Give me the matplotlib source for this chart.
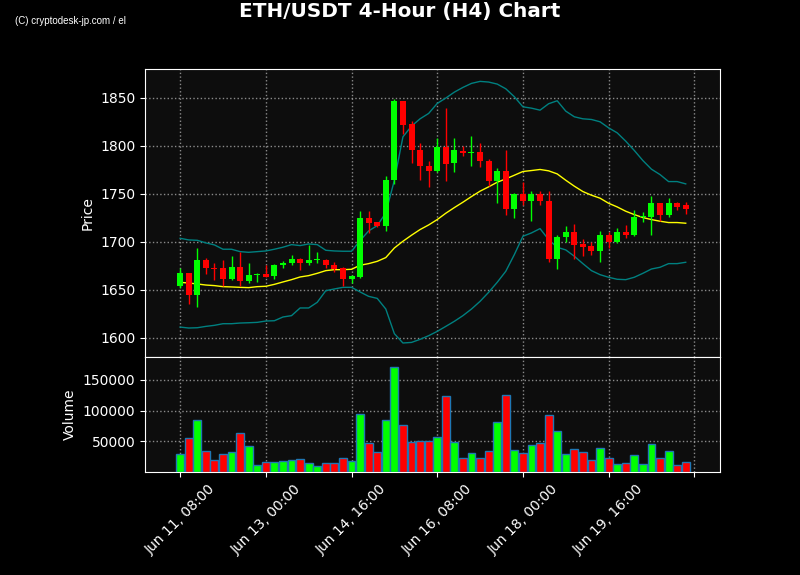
import matplotlib

matplotlib.use("Agg")
import matplotlib.pyplot as plt
import numpy as np
import pandas as pd

# 4-hour candles
opens = [
    1654, 1667, 1644, 1681, 1673, 1673, 1661, 1674, 1659, 1665.5,
    1666, 1664, 1675.4, 1677.5, 1682.4, 1677.5, 1681, 1681.4, 1676, 1672.7,
    1661.5, 1663.6, 1725.2, 1720.7, 1716.1, 1764.1, 1846.2, 1822.2, 1796, 1779.4,
    1773.5, 1798.9, 1781.8, 1795, 1792.3, 1794, 1784.6, 1763.1, 1773.2, 1733.9,
    1750.2, 1742.9, 1750.2, 1742.9, 1681.7, 1704.7, 1710.6, 1697.4, 1696, 1690.8,
    1707.4, 1699.8, 1710.6, 1707.4, 1726, 1726.2, 1740.5, 1728.3, 1740.5, 1738,
]
highs = [
    1673, 1667.5, 1693.5, 1683, 1678, 1681.4, 1684.8, 1689.4, 1678, 1667.5,
    1676, 1677, 1679.6, 1686.6, 1682.6, 1697, 1689.4, 1682.4, 1679, 1673.7,
    1665, 1731.8, 1731.8, 1721, 1768.3, 1849, 1846.5, 1826, 1802.4, 1784,
    1807.6, 1839.6, 1807.9, 1799.6, 1810.4, 1802.4, 1786.4, 1777, 1796, 1750.5,
    1762.4, 1752.6, 1752.6, 1752.6, 1707.4, 1716.5, 1718.6, 1702.9, 1699.8, 1711.3,
    1710.6, 1714.4, 1717.5, 1733.2, 1731.1, 1748.1, 1740.5, 1745.7, 1741.2, 1741.5,
]
lows = [
    1652, 1635.1, 1632, 1666.4, 1659.8, 1653.6, 1660, 1653.6, 1657, 1657.7,
    1663, 1661, 1673, 1675.4, 1670.2, 1675.4, 1678, 1672.7, 1668.5, 1653.6,
    1657, 1662.2, 1709.2, 1715.8, 1710.9, 1760.3, 1811.8, 1782.2, 1764.8, 1757.2,
    1773, 1763.1, 1772.5, 1789.2, 1778.7, 1777.7, 1758.6, 1740.5, 1728.3, 1724.8,
    1738, 1721.7, 1738, 1678.9, 1671.6, 1699.8, 1682, 1684.8, 1686.6, 1679,
    1693.2, 1698.4, 1704, 1705.7, 1720.3, 1707.4, 1721.4, 1725.5, 1732.8, 1729,
]
closes = [
    1667, 1644.2, 1681.4, 1672.3, 1672, 1660.9, 1674, 1658.8, 1665.7, 1666,
    1663.6, 1676, 1678.2, 1682.4, 1677.5, 1681.4, 1681.5, 1675.4, 1671.6, 1661.5,
    1664.7, 1725.2, 1720, 1716.1, 1764.8, 1846.2, 1821.5, 1795.4, 1778.7, 1773.5,
    1798.9, 1781.5, 1795.1, 1792.3, 1794, 1784, 1763.1, 1773.2, 1733.9, 1750.2,
    1742.9, 1750.2, 1742.2, 1681.7, 1705.4, 1710.6, 1696.3, 1694.9, 1690.8, 1707.4,
    1699.8, 1710.6, 1707.4, 1726.2, 1727.3, 1740.5, 1728.3, 1740.5, 1736.6, 1734.6,
]
volumes = [
    29700, 54800, 85300, 34000, 19500, 29200, 32400, 62800, 42000, 12000,
    16300, 16300, 17900, 19500, 21100, 14700, 9900, 14700, 14700, 22700,
    17900, 94900, 46800, 32400, 85300, 170300, 77300, 48400, 50000, 50000,
    56400, 123800, 48400, 22700, 30800, 22700, 34000, 82100, 125400, 35600,
    30800, 43600, 46800, 93300, 66100, 29200, 37200, 32400, 19500, 38800,
    22700, 13100, 14700, 27500, 13100, 45200, 22700, 34000, 11500, 16300,
]
# Bollinger bands (20-period) as drawn on the reference
bb_upper = [
    1703.6, 1701.9, 1701.5, 1698.8, 1696.7, 1692.2, 1692.2, 1689.7, 1689.0, 1689.7,
    1690.4, 1692.2, 1694.3, 1697.0, 1696.0, 1697.7, 1697.0, 1691.1, 1690.4, 1690.1,
    1690.1, 1701.2, 1711.3, 1716.8, 1730.1, 1764.1, 1809.3, 1820.5, 1828.1, 1833.7,
    1844.1, 1849.7, 1855.9, 1860.8, 1865.0, 1867.1, 1866.4, 1864.3, 1859.4, 1851.1,
    1840.6, 1839.2, 1837.1, 1843.8, 1846.9, 1836.1, 1830.2, 1828.1, 1827.4, 1825.0,
    1818.7, 1813.5, 1804.8, 1795.1, 1784.6, 1775.6, 1770.0, 1762.7, 1762.7, 1760.3,
]
bb_middle = [
    1657.7, 1657.0, 1656.0, 1654.9, 1654.3, 1653.2, 1652.9, 1652.5, 1652.2, 1653.2,
    1653.6, 1655.6, 1658.1, 1660.5, 1663.3, 1664.7, 1667.1, 1669.9, 1670.9, 1670.9,
    1671.3, 1675.5, 1677.2, 1679.6, 1683.5, 1693.5, 1700.5, 1706.8, 1712.7, 1717.5,
    1723.1, 1729.7, 1735.6, 1741.2, 1747.1, 1752.7, 1757.2, 1762.0, 1765.5, 1769.3,
    1773.2, 1774.2, 1775.3, 1773.9, 1770.7, 1764.1, 1757.9, 1752.3, 1748.5, 1745.4,
    1740.1, 1736.3, 1731.8, 1728.3, 1725.2, 1723.1, 1721.4, 1720.0, 1720.0, 1719.3,
]
bb_lower = [
    1611.1, 1610.1, 1610.4, 1611.8, 1612.9, 1614.6, 1614.6, 1615.3, 1615.6, 1616.0,
    1617.4, 1617.7, 1621.6, 1623.0, 1631.0, 1631.0, 1636.9, 1649.0, 1650.8, 1652.5,
    1652.5, 1647.7, 1643.1, 1641.0, 1629.9, 1604.2, 1594.5, 1595.1, 1598.3, 1602.1,
    1606.6, 1611.8, 1617.1, 1623.0, 1629.9, 1637.9, 1647.3, 1657.7, 1669.2, 1686.6,
    1705.7, 1709.2, 1713.7, 1702.2, 1694.2, 1691.5, 1684.9, 1677.2, 1669.9, 1665.7,
    1663.0, 1660.9, 1660.5, 1663.0, 1667.1, 1671.6, 1673.4, 1677.2, 1677.2, 1678.6,
]

timestamps = pd.date_range("2023-06-11 08:00", periods=len(closes), freq="4h")

UP = "#00ff00"
DOWN = "#ff0000"
BAND = "#008080"

plt.rcParams["text.color"] = "white"
plt.rcParams["axes.labelcolor"] = "white"
plt.rcParams["xtick.color"] = "white"
plt.rcParams["ytick.color"] = "white"

fig, (ax, ax_vol) = plt.subplots(
    2,
    1,
    figsize=(8, 5.75),
    dpi=100,
    sharex=True,
    gridspec_kw={"height_ratios": [2.5, 1], "hspace": 0},
)
fig.patch.set_facecolor("black")
fig.subplots_adjust(left=0.18125, right=0.9, top=0.88, bottom=0.179)

x = np.arange(len(closes))
o = np.array(opens)
c = np.array(closes)
up = c >= o
colors = np.where(up, UP, DOWN)

# candles
ax.vlines(x, lows, highs, colors=colors, linewidth=1, zorder=3)
ax.bar(
    x,
    np.maximum(np.abs(c - o), 0.6),
    bottom=np.minimum(o, c),
    width=0.7,
    color=colors,
    zorder=4,
)
ax.plot(x, bb_upper, color=BAND, linewidth=1, zorder=2)
ax.plot(x, bb_lower, color=BAND, linewidth=1, zorder=2)
ax.plot(x, bb_middle, color="#ffff00", linewidth=1, zorder=2)

ax.set_ylim(1580, 1880)
ax.set_yticks([1600, 1650, 1700, 1750, 1800, 1850])
ax.set_ylabel("Price")

# volume
ax_vol.bar(
    x,
    volumes,
    width=0.92,
    color=colors,
    edgecolor="#1f77b4",
    linewidth=1,
    zorder=3,
)
ax_vol.set_ylim(0, max(volumes) * 1.1)
ax_vol.set_yticks([50000, 100000, 150000])
ax_vol.set_ylabel("Volume")

tick_pos = np.arange(0, len(closes) + 1, 10)
tick_labels = [
    timestamps[i].strftime("%b %d, %H:%M") if i < len(closes) else ""
    for i in tick_pos
]
ax_vol.set_xticks(tick_pos)
ax_vol.set_xticklabels(tick_labels, rotation=45)
ax.set_xlim(-4.1, 63)

for a in (ax, ax_vol):
    a.set_facecolor("#0d0d0d")
    a.grid(True, linestyle=":", color="#aaaaaa", linewidth=1, alpha=0.8)
    a.set_axisbelow(True)
    for spine in a.spines.values():
        spine.set_color("white")
ax.tick_params(axis="x", length=0)

fig.suptitle(
    "ETH/USDT 4-Hour (H4) Chart",
    fontsize=14.4,
    fontweight="bold",
    color="white",
    y=0.996,
)
fig.text(
    0.019,
    0.958,
    "(C) cryptodesk-jp.com / el",
    fontsize=7,
    family="Liberation Sans",
    color="white",
)

fig.savefig("out.png", dpi=100, facecolor=fig.get_facecolor())
